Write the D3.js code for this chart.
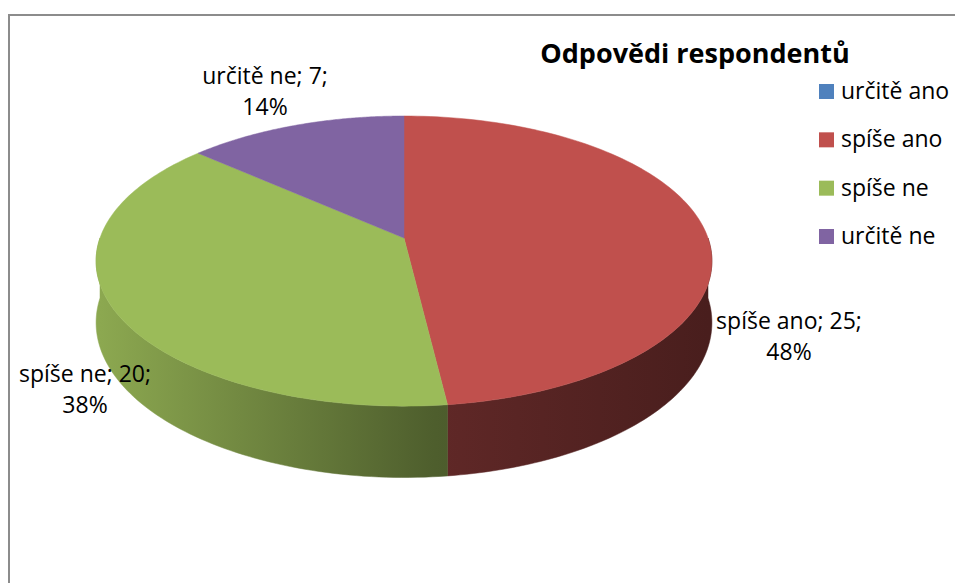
<!DOCTYPE html>
<html>
<head>
<meta charset="utf-8">
<script src="https://cdn.jsdelivr.net/npm/d3@7"></script>
<style>
  body { margin: 0; background: #fff; }
  text { font-family: "Open Sans", sans-serif; fill: #000; }
</style>
</head>
<body>
<main></main>
<script>
// Data
const categories = ["určitě ano", "spíše ano", "spíše ne", "určitě ne"];
const counts = [0, 25, 20, 7];
const percentLabels = ["0%", "48%", "38%", "14%"];
const colors = ["#4F81BD", "#C0504D", "#9BBB59", "#8064A2"];
const chartTitle = "Odpovědi respondentů";

function drawPie() {
	const dimensions = { width: 955, height: 583 };
	// apex of the pie on screen, radii and a small perspective factor
	const pie3d = { cx: 404, cy: 238, rx: 304, ry: 141.4, persp: 0.159, depth: 60 };

	const svg = d3.select("main")
		.append("svg")
			.attr("width", dimensions.width)
			.attr("height", dimensions.height);

	// chart frame
	svg.append("rect")
		.attr("x", 9).attr("y", 15)
		.attr("width", 960).attr("height", 600)
		.attr("fill", "#fff")
		.attr("stroke", "#8c8c8c")
		.attr("stroke-width", 2);

	const dataset = categories.map((c, i) => ({
		name: c, value: counts[i], pct: percentLabels[i], color: colors[i]
	}));

	const pieGen = d3.pie()
		.value(d => d.value)
		.sort(null);
	const slices = pieGen(dataset);

	// project an angle (clockwise from 12 o'clock) onto the tilted disc
	const w = a => 1 + pie3d.persp * Math.cos(a);
	const px = a => pie3d.cx + pie3d.rx * Math.sin(a) / w(a);
	const py = (a, down = 0) => pie3d.cy - pie3d.ry * Math.cos(a) / w(a) + down * pie3d.depth / w(a);

	const rim = (a0, a1, down, steps) => {
		const pts = [];
		for (let k = 0; k <= steps; k++) {
			const a = a0 + (a1 - a0) * k / steps;
			pts.push([px(a), py(a, down)]);
		}
		return pts;
	};

	// shading gradients for side walls
	const defs = svg.append("defs");
	const shade = [[0, 0.1], [0.55, 0.5], [1, 0.62]];
	slices.forEach((s, i) => {
		const g = defs.append("linearGradient")
			.attr("id", "side" + i)
			.attr("gradientUnits", "userSpaceOnUse")
			.attr("x1", pie3d.cx - pie3d.rx).attr("x2", pie3d.cx + pie3d.rx)
			.attr("y1", 0).attr("y2", 0);
		shade.forEach(([o, t]) => {
			g.append("stop")
				.attr("offset", o)
				.attr("stop-color", d3.interpolateRgb(s.data.color, "#000")(t));
		});
	});

	const line = d3.line();

	// side walls (front half only)
	const sides = svg.append("g");
	slices.forEach((s, i) => {
		const a0 = Math.max(s.startAngle, Math.PI / 2);
		const a1 = Math.min(s.endAngle, 3 * Math.PI / 2);
		if (a1 <= a0) return;
		const top = rim(a0, a1, 0, 80);
		const bottom = rim(a1, a0, 1, 80);
		sides.append("path")
			.attr("d", line(top.concat(bottom)) + "Z")
			.attr("fill", `url(#side${i})`)
			.attr("stroke", `url(#side${i})`)
			.attr("stroke-width", 0.5);
	});

	// top faces
	const tops = svg.append("g");
	slices.forEach(s => {
		if (s.endAngle - s.startAngle <= 0) return;
		const pts = [[pie3d.cx, pie3d.cy]].concat(rim(s.startAngle, s.endAngle, 0, 120));
		tops.append("path")
			.attr("d", line(pts) + "Z")
			.attr("fill", s.data.color)
			.attr("stroke", s.data.color)
			.attr("stroke-width", 0.5);
	});

	// data labels
	const labelPos = {
		"spíše ano": [789, 329],
		"spíše ne": [85, 382],
		"určitě ne": [265, 84]
	};
	slices.forEach(s => {
		const pos = labelPos[s.data.name];
		if (!pos || s.data.value === 0) return;
		const t = svg.append("text")
			.attr("x", pos[0]).attr("y", pos[1])
			.attr("text-anchor", "middle")
			.style("font-size", "23px");
		t.append("tspan").attr("x", pos[0]).text(`${s.data.name}; ${s.data.value};`);
		t.append("tspan").attr("x", pos[0]).attr("dy", 31).text(s.data.pct);
	});

	// title
	svg.append("text")
		.attr("x", 695).attr("y", 63)
		.attr("text-anchor", "middle")
		.style("font-size", "27px")
		.style("font-weight", "bold")
		.text(chartTitle);

	// legend
	const legendY = d3.scalePoint()
		.domain(categories)
		.range([84, 229]);
	const items = svg.append("g")
		.selectAll("g")
		.data(dataset)
		.enter()
		.append("g")
		.attr("transform", d => `translate(819, ${legendY(d.name)})`);
	items.append("rect")
		.attr("width", 15).attr("height", 15)
		.attr("fill", d => d.color);
	items.append("text")
		.attr("x", 22).attr("y", 15)
		.style("font-size", "23px")
		.text(d => d.name);
}

drawPie();
</script>
</body>
</html>
